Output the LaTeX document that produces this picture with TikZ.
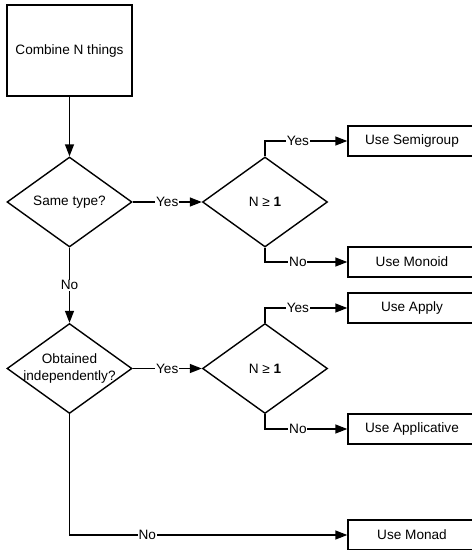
\documentclass[tikz,border=0pt]{standalone}
\usepackage{fontspec}
\setmainfont{Liberation Sans}
\usetikzlibrary{shapes.geometric,arrows.meta}
\begin{document}
\begin{tikzpicture}[x=1pt,y=-1pt,
  every node/.style={font=\fontsize{13.6}{16}\selectfont},
  box/.style={draw,line width=1.4pt,rectangle,minimum width=128,minimum height=30,inner sep=0pt},
  startbox/.style={draw,line width=1.4pt,rectangle,minimum width=125,minimum height=91,inner sep=0pt},
  decision/.style={draw,line width=1.4pt,diamond,minimum width=125,minimum height=90,inner sep=0pt},
  conn/.style={line width=1.4pt,-{Triangle[length=12pt,width=9pt]}},
  lbl/.style={fill=white,inner sep=0.8pt}]
\useasboundingbox (0,0) rectangle (472,550);
\fill[white] (0,0) rectangle (472,550);
\clip (0,0) rectangle (472,550);
\node[startbox] (start) at (69.5,50.5) {Combine N things};
\node[decision,label={center:Same type?}] (d1) at (69.5,202) {};
\node[decision,label={[align=center,font=\fontsize{13.6}{17}\selectfont]center:Obtained\\independently?}] (d3) at (69.5,368.5) {};
\node[decision,label={center:N ≥ \textbf{1}}] (d2) at (265,202) {};
\node[decision,label={center:N ≥ \textbf{1}}] (d4) at (265,368.5) {};
\node[box] (semi) at (412,141) {Use Semigroup};
\node[box] (mono) at (412,262) {Use Monoid};
\node[box] (apply) at (412,308) {Use Apply};
\node[box] (applic) at (412,429) {Use Applicative};
\node[box] (monad) at (412,535) {Use Monad};
\draw[conn] (start) -- (d1);
\draw[conn] (d1.east) -- node[lbl] {Yes} (d2.west);
\draw[conn] (d1.south) -- node[lbl] {No} (d3.north);
\draw[conn] (d3.east) -- node[lbl] {Yes} (d4.west);
\draw[conn] (d2.north) |- node[lbl,pos=0.7] {Yes} (semi.west);
\draw[conn] (d2.south) |- node[lbl,pos=0.7] {No} (mono.west);
\draw[conn] (d4.north) |- node[lbl,pos=0.7] {Yes} (apply.west);
\draw[conn] (d4.south) |- node[lbl,pos=0.7] {No} (applic.west);
\draw[conn] (d3.south) |- node[lbl,pos=0.64] {No} (monad.west);
\end{tikzpicture}
\end{document}
